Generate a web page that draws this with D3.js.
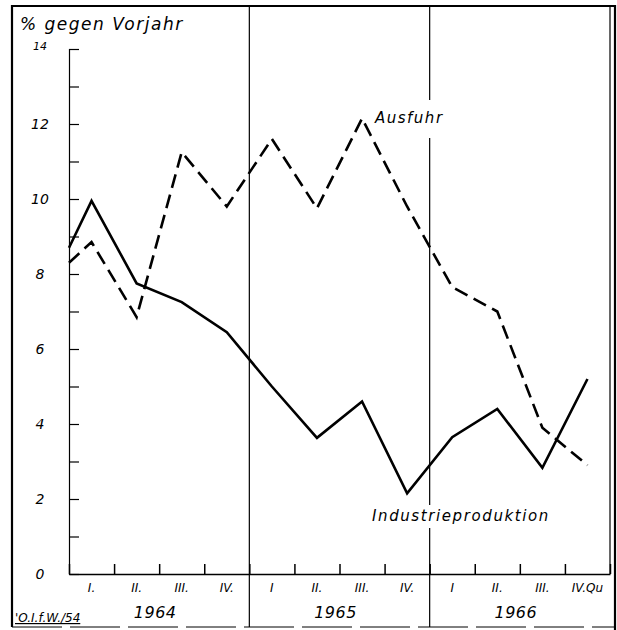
<!DOCTYPE html>
<html>
<head>
<meta charset="utf-8">
<script src="https://cdn.jsdelivr.net/npm/d3@7"></script>
<style>
  body { margin: 0; background: #fff; }
  text { font-family: "DejaVu Sans", sans-serif; font-style: italic; fill: #000; }
</style>
</head>
<body>
<svg id="chart" width="617" height="630"></svg>
<script>
// quarters, index 0..11 (1964 I .. 1966 IV); first entry is the value where the line meets the axis
var quarterLabels = ["I.", "II.", "III.", "IV.", "I", "II.", "III.", "IV.", "I", "II.", "III.", "IV.Qu"];
var years = ["1964", "1965", "1966"];
var yTicks = [0, 2, 4, 6, 8, 10, 12, 14];
var quarterIndex = [-0.5, 0, 1, 2, 3, 4, 5, 6, 7, 8, 9, 10, 11];
var industrie = [8.7, 9.95, 7.75, 7.25, 6.45, 5.0, 3.63, 4.6, 2.15, 3.65, 4.4, 2.83, 5.2];
var ausfuhr = [8.3, 8.85, 6.85, 11.25, 9.8, 11.6, 9.75, 12.15, 9.8, 7.65, 7.0, 3.9, 2.9];

var svg = d3.select("#chart"),
    margin = {top: 49, right: 7, bottom: 56, left: 69},
    width = +svg.attr("width") - margin.left - margin.right,
    height = +svg.attr("height") - margin.top - margin.bottom;

var x = d3.scaleLinear().domain([-0.5, 11.5]).range([margin.left, margin.left + width]);
var y = d3.scaleLinear().domain([0, 14]).range([margin.top + height, margin.top]);

// outer frame
svg.append("path")
    .attr("d", "M12,627V6H615V630")
    .attr("fill", "none").attr("stroke", "#000").attr("stroke-width", 2.2);
svg.append("line").attr("x1", 12).attr("x2", 615).attr("y1", 627).attr("y2", 627)
    .attr("stroke", "#000").attr("stroke-width", 1).attr("stroke-dasharray", "50,8");
// inner right border of plot
svg.append("line").attr("x1", x(11.5)).attr("x2", x(11.5)).attr("y1", 6).attr("y2", y(0))
    .attr("stroke", "#000").attr("stroke-width", 1.2);

// year dividers
svg.append("line").attr("x1", x(3.5)).attr("x2", x(3.5)).attr("y1", 6).attr("y2", 627)
    .attr("stroke", "#000").attr("stroke-width", 1.2);
svg.append("line").attr("x1", x(7.5)).attr("x2", x(7.5)).attr("y1", 6).attr("y2", 100)
    .attr("stroke", "#000").attr("stroke-width", 1.2);
svg.append("line").attr("x1", x(7.5)).attr("x2", x(7.5)).attr("y1", 138).attr("y2", 505)
    .attr("stroke", "#000").attr("stroke-width", 1.2);
svg.append("line").attr("x1", x(7.5)).attr("x2", x(7.5)).attr("y1", 528).attr("y2", 627)
    .attr("stroke", "#000").attr("stroke-width", 1.2);

// y axis
var yAxis = svg.append("g")
    .attr("transform", "translate(" + margin.left + ",0)")
    .call(d3.axisRight(y).tickValues(d3.range(0, 15)).tickSize(10).tickFormat(""));
yAxis.select(".domain").attr("stroke-width", 1.2);
yAxis.selectAll(".tick line").attr("stroke-width", 1.2);

svg.append("g").selectAll("text")
    .data(yTicks)
    .enter().append("text")
    .attr("x", 40)
    .attr("y", function(d) { return y(d); })
    .attr("dy", d => d == 14 ? "0.1em" : "0.35em")
    .attr("text-anchor", "middle")
    .style("font-size", d => d == 14 ? "11px" : "14px")
    .text(function(d) { return d; });

// x axis
var xAxis = svg.append("g")
    .attr("transform", "translate(0," + y(0) + ")")
    .call(d3.axisTop(x).tickValues(d3.range(-0.5, 11.6, 1)).tickSize(10).tickFormat("").tickSizeOuter(0));
xAxis.select(".domain").attr("stroke-width", 1.5);
xAxis.selectAll(".tick line").attr("stroke-width", 1.5);

svg.append("g").selectAll("text")
    .data(quarterLabels)
    .enter().append("text")
    .attr("x", function(d, i) { return x(i); })
    .attr("y", 592)
    .attr("text-anchor", "middle")
    .style("font-size", "12px")
    .text(function(d) { return d; });

svg.append("g").selectAll("text")
    .data(years)
    .enter().append("text")
    .attr("x", function(d, i) { return x(i * 4 + 1.5) - 4; })
    .attr("y", 618)
    .attr("text-anchor", "middle")
    .style("font-size", "16px")
    .style("letter-spacing", "0.5px")
    .text(function(d) { return d; });

// lines
var line = d3.line()
    .x(function(d) { return x(d[0]); })
    .y(function(d) { return y(d[1]); });

svg.append("path")
    .datum(d3.zip(quarterIndex, ausfuhr))
    .attr("fill", "none")
    .attr("stroke", "#000")
    .attr("stroke-width", 2.6)
    .attr("stroke-dasharray", "14,7")
    .attr("d", line);

svg.append("path")
    .datum(d3.zip(quarterIndex, industrie))
    .attr("fill", "none")
    .attr("stroke", "#000")
    .attr("stroke-width", 2.6)
    .attr("stroke-linejoin", "miter")
    .attr("d", line);

// labels
svg.append("text")
    .attr("x", 20).attr("y", 30)
    .style("font-size", "17px")
    .style("letter-spacing", "1.5px")
    .text("% gegen Vorjahr");

svg.append("text")
    .attr("x", 375).attr("y", 123)
    .style("font-size", "15px")
    .style("letter-spacing", "1.5px")
    .text("Ausfuhr");

svg.append("text")
    .attr("x", 372).attr("y", 521)
    .style("font-size", "15px")
    .style("letter-spacing", "1.6px")
    .text("Industrieproduktion");

svg.append("text")
    .attr("x", 15).attr("y", 622)
    .style("font-size", "12px")
    .attr("text-decoration", "underline")
    .text("'O.I.f.W./54");
</script>
</body>
</html>
